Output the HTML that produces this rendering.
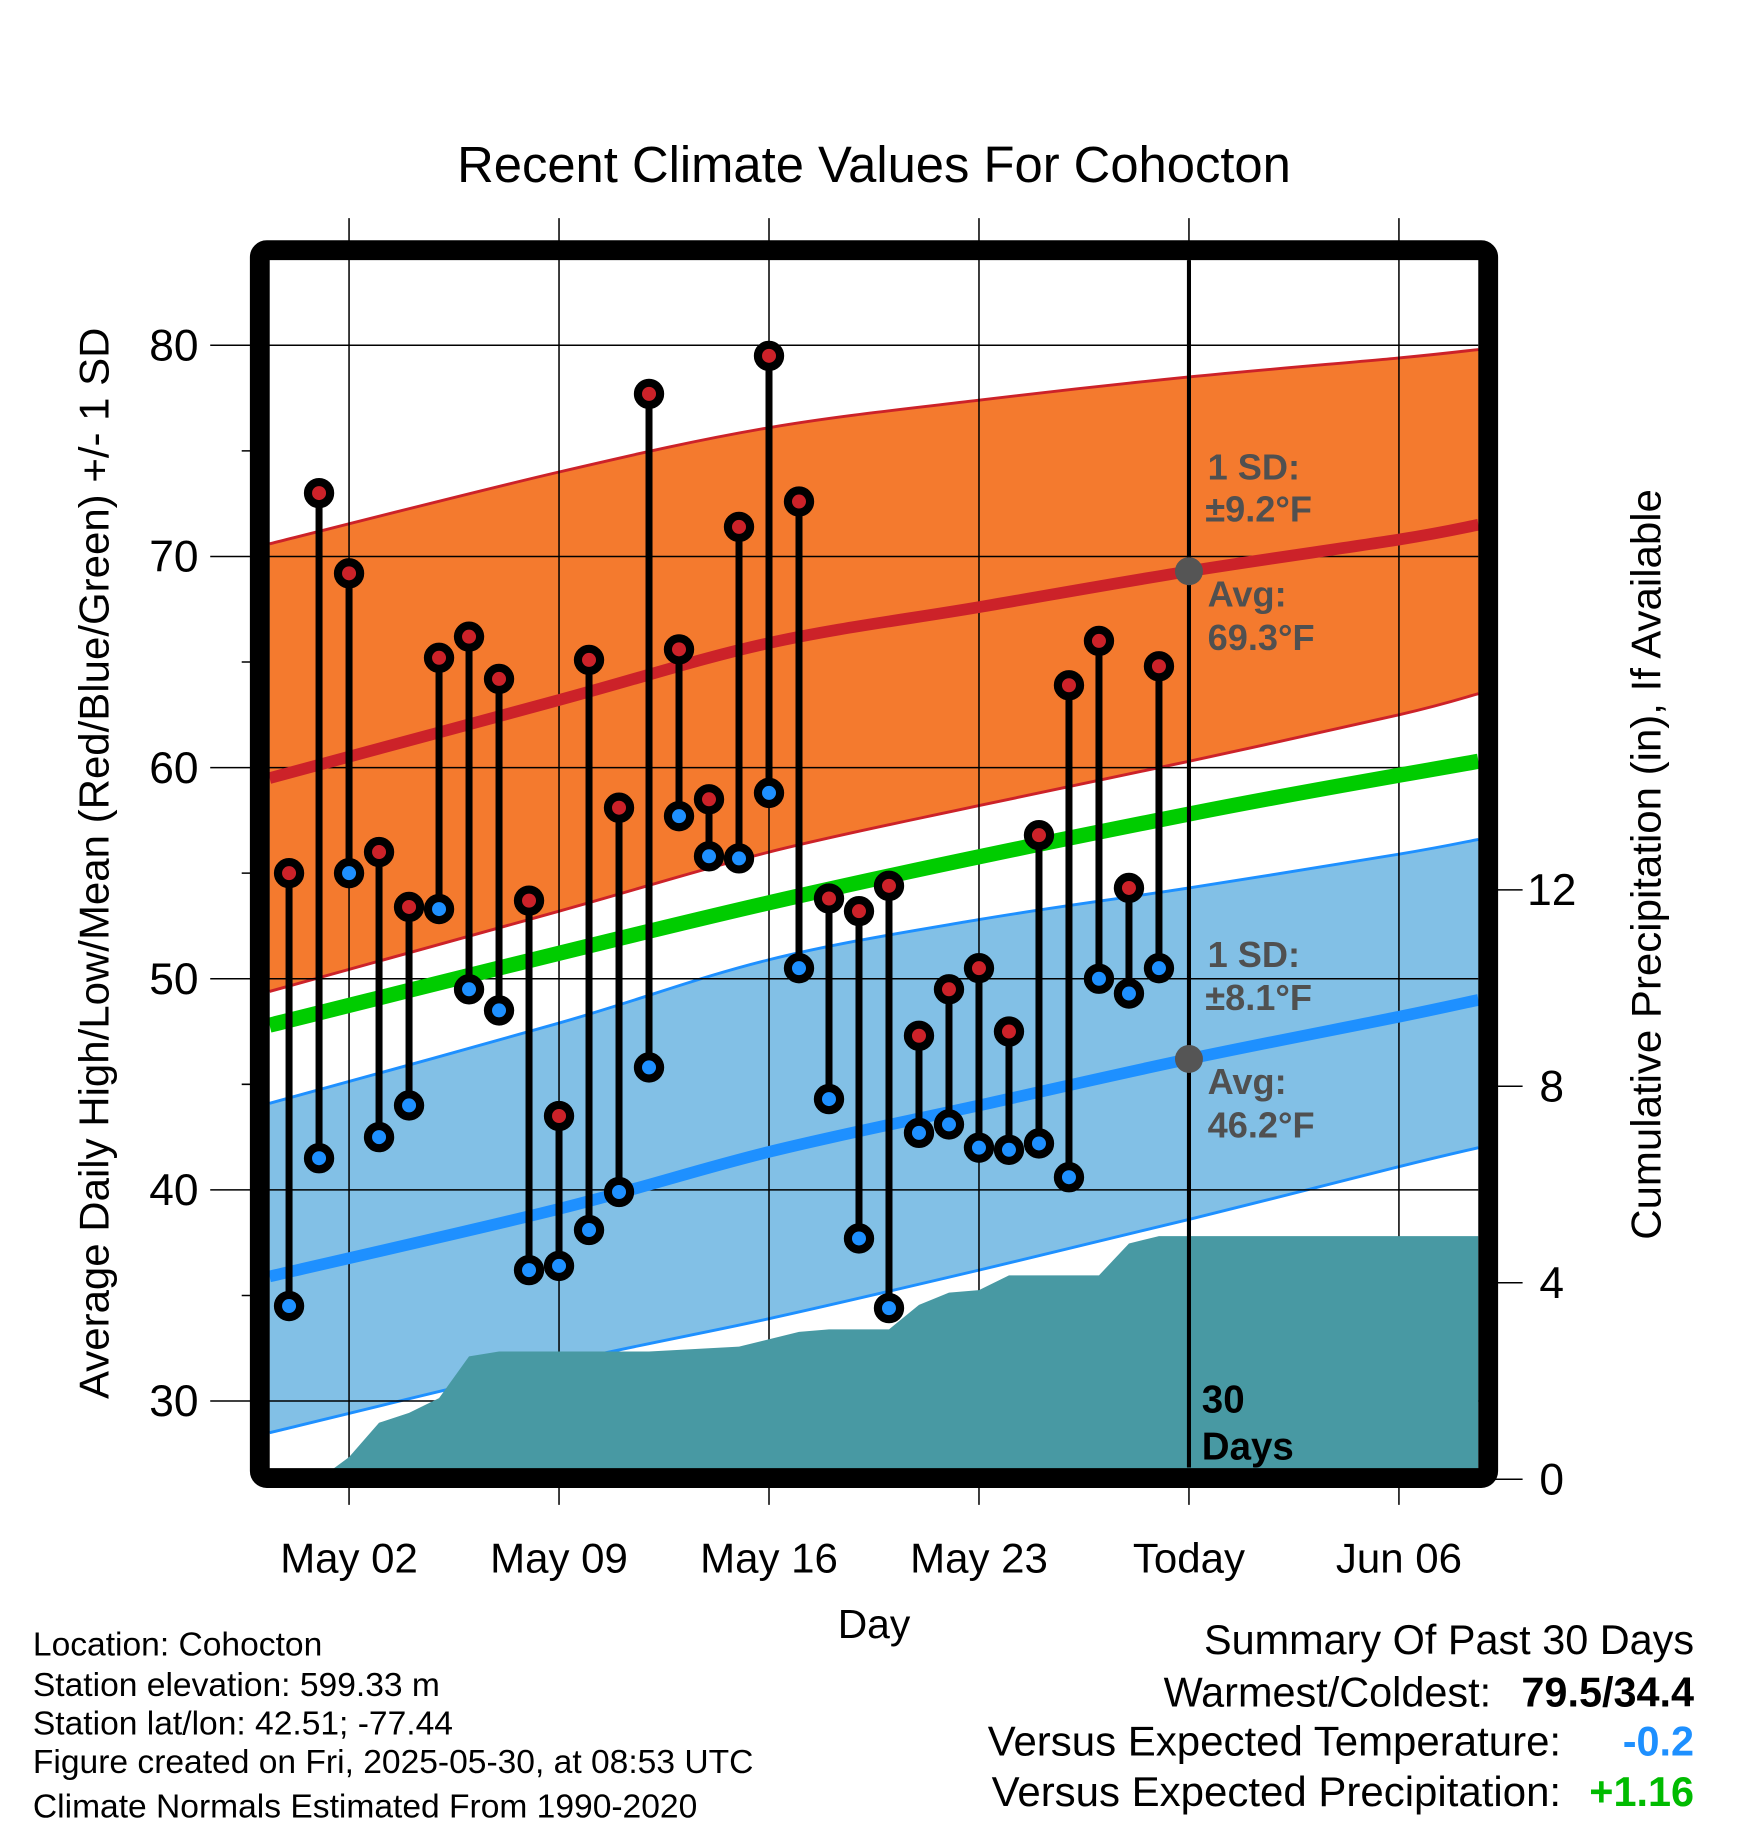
<!DOCTYPE html>
<html><head><meta charset="utf-8"><style>
html,body{margin:0;padding:0;background:#fff}
svg{display:block}
text{font-family:"Liberation Sans",sans-serif}
</style></head><body>
<svg id="chart" width="1748" height="1828" viewBox="0 0 1498 1567" xmlns="http://www.w3.org/2000/svg">
<g id="bands"></g>
<g id="grid"></g>
<g id="precip"></g>
<g id="normals"></g>
<g id="marks"></g>
<g id="frame"></g>
<g id="labels"></g>
</svg>
<script>
// ---- data ----
const days = ["Apr30","May01","May02","May03","May04","May05","May06","May07","May08","May09","May10","May11","May12","May13","May14","May15","May16","May17","May18","May19","May20","May21","May22","May23","May24","May25","May26","May27","May28","May29"];
const highs = [55.0,73.0,69.2,56.0,53.4,65.2,66.2,64.2,53.7,43.5,65.1,58.1,77.7,65.6,58.5,71.4,79.5,72.6,53.8,53.2,54.4,47.3,49.5,50.5,47.5,56.8,63.9,66.0,54.3,64.8];
const lows = [34.5,41.5,55.0,42.5,44.0,53.3,49.5,48.5,36.2,36.4,38.1,39.9,45.8,57.7,55.8,55.7,58.8,50.5,44.3,37.7,34.4,42.7,43.1,42.0,41.9,42.2,40.6,50.0,49.3,50.5];
// normals: day offsets from May02
const normDays = [-2.65,7,14,21,28,35,37.65];
const normHighMean = [59.5,63.2,65.9,67.6,69.3,70.8,71.5];
const normHighUpper = [70.6,74.0,76.1,77.4,78.5,79.4,79.8];
const normHighLower = [49.4,53.2,56.0,58.2,60.3,62.5,63.5];
const normLowMean = [35.9,39.1,41.8,44.0,46.2,48.2,49.0];
const normLowUpper = [44.1,47.9,50.9,52.8,54.3,55.9,56.6];
const normLowLower = [28.5,31.8,33.9,36.2,38.6,41.1,42.0];
const normMeanDays = [-2.65,14,28,37.65];
const normMean = [47.8,53.6,57.8,60.3];
const precipDays = [-1,0,1,2,3,4,5,10,13,15,16,18,19,20,21,22,25,26,27,28,37.65];
const precipVals = [0,0.45,1.15,1.35,1.65,2.5,2.6,2.6,2.7,3.0,3.05,3.05,3.55,3.8,3.85,4.15,4.15,4.8,4.95,4.95,4.95];
const xTickDays = [0,7,14,21,28,35];
const xTickLabels = ["May 02","May 09","May 16","May 23","Today","Jun 06"];
const yTicks = [30,40,50,60,70,80];
const yMinor = [35,45,55,65,75];
const pTicks = [0,4,8,12];

// ---- axes ----
const L=231,R=1267,T=223,B=1258;
const x = d => 299 + d*25.714;
const y = v => 296 + (80-v)*18.1;
const yp = p => 1268 - p*42.1;
const NS="http://www.w3.org/2000/svg";
function mk(tag,attrs,parent){const e=document.createElementNS(NS,tag);for(const k in attrs)e.setAttribute(k,attrs[k]);parent.appendChild(e);return e;}
const g = id=>document.getElementById(id);

function smooth(pts){
  let d="";
  for(let i=0;i<pts.length-1;i++){
    const p0=pts[Math.max(0,i-1)],p1=pts[i],p2=pts[i+1],p3=pts[Math.min(pts.length-1,i+2)];
    const c1=[p1[0]+(p2[0]-p0[0])/6,p1[1]+(p2[1]-p0[1])/6];
    const c2=[p2[0]-(p3[0]-p1[0])/6,p2[1]-(p3[1]-p1[1])/6];
    d+=" C"+c1[0]+","+c1[1]+" "+c2[0]+","+c2[1]+" "+p2[0]+","+p2[1];
  }
  return d;
}
function pts(xs,vs){return xs.map((dd,i)=>[x(dd),y(vs[i])]);}

function band(xs,up,lo,fill,edge,name){
  const pu=pts(xs,up), pl=pts(xs,lo).reverse();
  const d="M"+pu[0][0]+","+pu[0][1]+smooth(pu)+" L"+pl[0][0]+","+pl[0][1]+smooth(pl)+"Z";
  const p=mk("path",{d:d,fill:fill},g("bands"));
  
  
  [up,lo].forEach(arr=>{const pp=pts(xs,arr);mk("path",{d:"M"+pp[0][0]+","+pp[0][1]+smooth(pp),fill:"none",stroke:edge,"stroke-width":2.5},g("bands"));});
}
band(normDays,normHighUpper,normHighLower,"#f47a2e","#cc2229","high-sd-band");
band(normDays,normLowUpper,normLowLower,"#82c0e6","#1e90ff","low-sd-band");

xTickDays.forEach(d=>{
  mk("line",{x1:x(d),x2:x(d),y1:187,y2:1290,stroke:"#000","stroke-width":1.3},g("grid"));
});
yTicks.forEach(v=>{
  mk("line",{x1:180,x2:R,y1:y(v),y2:y(v),stroke:"#000","stroke-width":1.3},g("grid"));
});
yMinor.forEach(v=>{
  mk("line",{x1:207,x2:222,y1:y(v),y2:y(v),stroke:"#000","stroke-width":1.3},g("grid"));
});
pTicks.forEach(p=>{
  mk("line",{x1:1276,x2:1305,y1:yp(p),y2:yp(p),stroke:"#000","stroke-width":1.3},g("grid"));
});

(function(){
  let d="M"+x(precipDays[0])+","+yp(0);
  precipDays.forEach((dd,i)=>{d+="L"+Math.min(x(dd),R)+","+yp(precipVals[i]);});
  d+="L"+R+","+yp(0)+"Z";
  const p=mk("path",{d:d,fill:"#4899a3"},g("precip"));
  
  
})();
function nline(xs,vs,col,w,name){
  const pp=pts(xs,vs);
  const p=mk("path",{d:"M"+pp[0][0]+","+pp[0][1]+smooth(pp),fill:"none",stroke:col,"stroke-width":w},g("normals"));
  
  
}
nline(normDays,normHighMean,"#cc2229",10,"avg-high-line");
nline(normMeanDays,normMean,"#00cc00",13,"avg-mean-line");
nline(normDays,normLowMean,"#1e90ff",10,"avg-low-line");
mk("line",{x1:x(28),x2:x(28),y1:T,y2:B,stroke:"#000","stroke-width":3.5},g("normals"));
const c1=mk("circle",{cx:x(28),cy:y(69.3),r:12,fill:"#555"},g("normals"));


const c2=mk("circle",{cx:x(28),cy:y(46.2),r:12,fill:"#555"},g("normals"));



days.forEach((dname,i)=>{
  const d=i-2;
  const s=mk("line",{x1:x(d),x2:x(d),y1:y(highs[i]),y2:y(lows[i]),stroke:"#000","stroke-width":6},g("marks"));
  
  
});
days.forEach((dname,i)=>{
  const d=i-2;
  const h=mk("circle",{cx:x(d),cy:y(highs[i]),r:9.5,fill:"#cc2229",stroke:"#000","stroke-width":7},g("marks"));
  
  
  const l=mk("circle",{cx:x(d),cy:y(lows[i]),r:9.5,fill:"#1e90ff",stroke:"#000","stroke-width":7},g("marks"));
  
  
});

const fr=mk("rect",{x:222.5,y:214.5,width:1053,height:1052.5,rx:6,fill:"none",stroke:"#000","stroke-width":17},g("frame"));



function txt(s,attrs,name){const t=mk("text",attrs,g("labels"));t.textContent=s;return t;}
yTicks.forEach(v=>{txt(String(v),{x:170,y:y(v)+13,"font-size":38,"text-anchor":"end"},"y-tick-label");});
pTicks.forEach(p=>{txt(String(p),{x:1330,y:yp(p)+13,"font-size":38,"text-anchor":"middle"},"precip-tick-label");});
xTickDays.forEach((d,i)=>{txt(xTickLabels[i],{x:x(d),y:1348,"font-size":36,"text-anchor":"middle"},"x-tick-label");});
txt("Recent Climate Values For Cohocton",{x:749,y:156,"font-size":43.5,"text-anchor":"middle"},"chart-title");
txt("Day",{x:749,y:1404,"font-size":35,"text-anchor":"middle"},"x-axis-title");
txt("Average Daily High/Low/Mean (Red/Blue/Green) +/- 1 SD",{x:0,y:0,"font-size":36,"text-anchor":"middle",transform:"translate(93,740) rotate(-90)"},"y-axis-title");
txt("Cumulative Precipitation (in), If Available",{x:0,y:0,"font-size":36,"text-anchor":"middle",transform:"translate(1423,741) rotate(-90)"},"y2-axis-title");
const ann=[["1 SD:",1035,411],["±9.2°F",1033,447],["Avg:",1035,520],["69.3°F",1035,557],["1 SD:",1035,829],["±8.1°F",1033,866],["Avg:",1035,938],["46.2°F",1035,975]];
ann.forEach(a=>{txt(a[0],{x:a[1],y:a[2],"font-size":31,"font-weight":"bold",fill:"#505050"},"sd-annotation");});
txt("30",{x:1030,y:1211,"font-size":33,"font-weight":"bold"},"days-label");
txt("Days",{x:1030,y:1251,"font-size":33,"font-weight":"bold"},"days-label");
const info=["Location: Cohocton","Station elevation: 599.33 m","Station lat/lon: 42.51; -77.44","Figure created on Fri, 2025-05-30, at 08:53 UTC","Climate Normals Estimated From 1990-2020"];
const iy=[1419,1454,1487,1520,1558];
info.forEach((s,i)=>{txt(s,{x:28,y:iy[i],"font-size":28.8},"station-info");});
txt("Summary Of Past 30 Days",{x:1452,y:1418,"font-size":35.5,"text-anchor":"end"},"summary-title");
txt("Warmest/Coldest:",{x:1278,y:1463,"font-size":35.5,"text-anchor":"end"},"summary-label");
txt("79.5/34.4",{x:1452,y:1463,"font-size":35.5,"font-weight":"bold","text-anchor":"end"},"summary-value");
txt("Versus Expected Temperature:",{x:1338,y:1505,"font-size":36,"text-anchor":"end"},"summary-label");
txt("-0.2",{x:1452,y:1505,"font-size":35.5,"font-weight":"bold","text-anchor":"end",fill:"#1e90ff"},"summary-value");
txt("Versus Expected Precipitation:",{x:1338,y:1548,"font-size":36,"text-anchor":"end"},"summary-label");
txt("+1.16",{x:1452,y:1548,"font-size":35.5,"font-weight":"bold","text-anchor":"end",fill:"#00bb00"},"summary-value");
</script>
</body></html>
